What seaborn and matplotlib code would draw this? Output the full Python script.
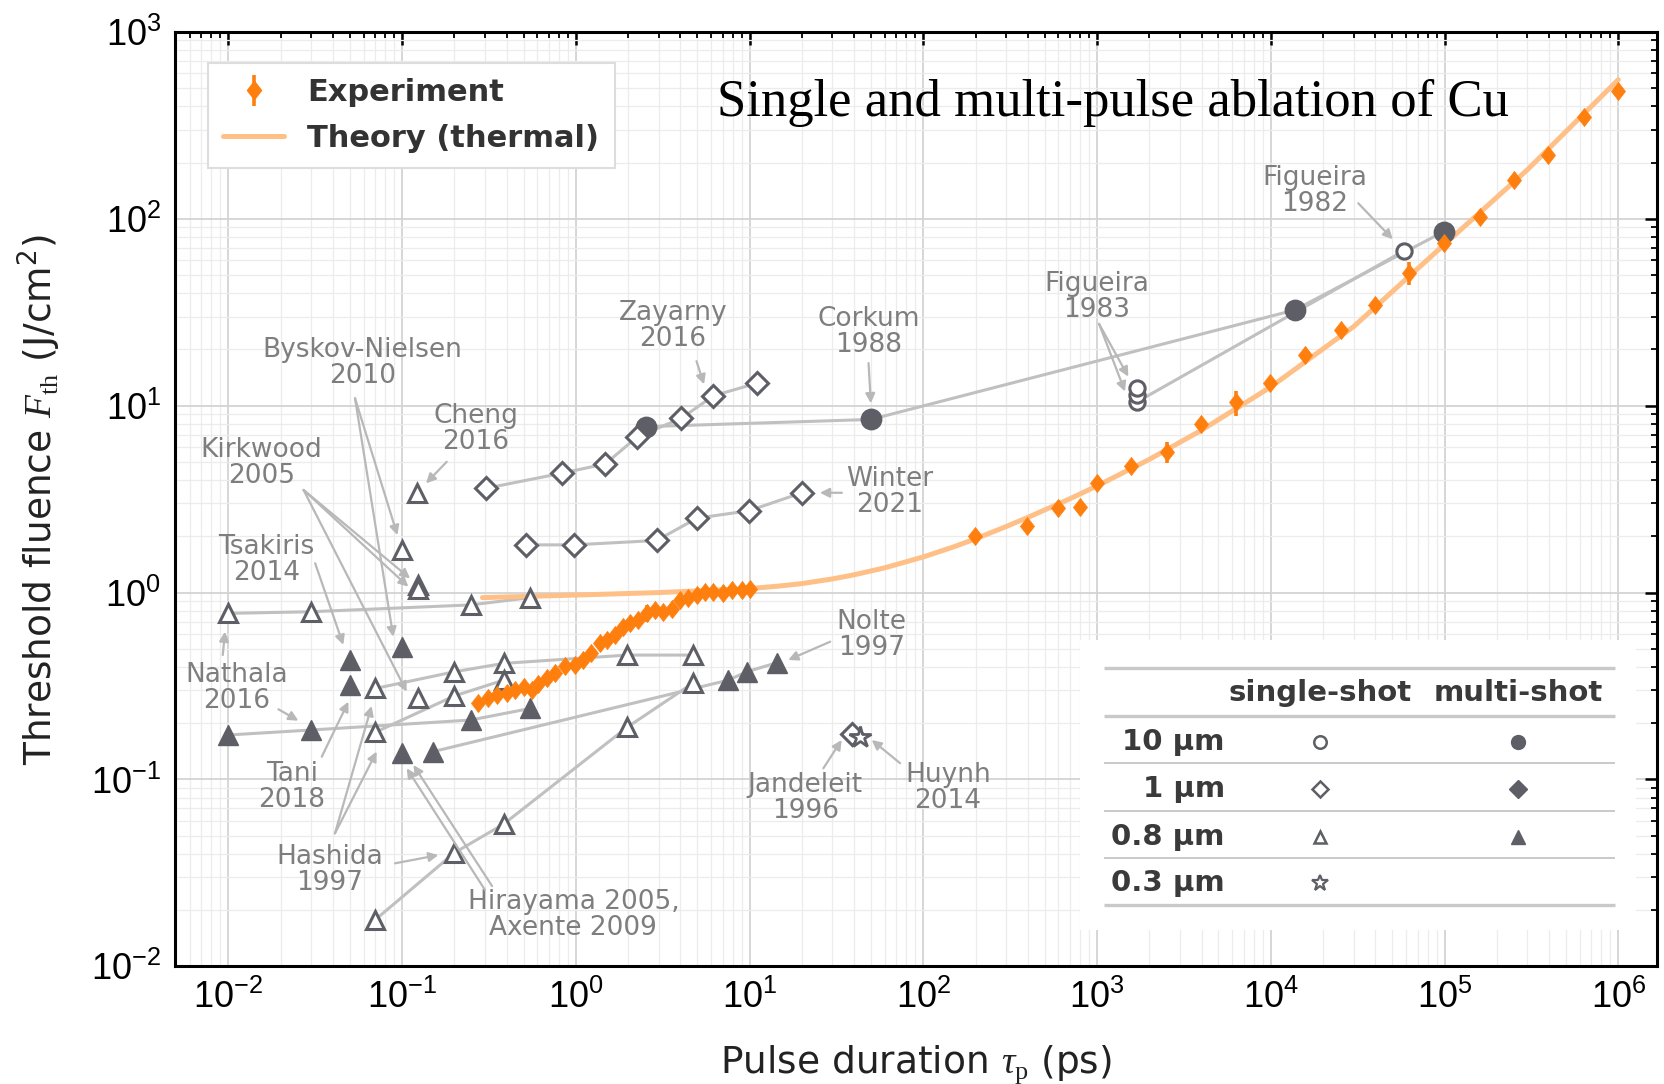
import numpy as np
import matplotlib
matplotlib.use("Agg")
import matplotlib.pyplot as plt
from matplotlib.ticker import LogLocator, NullFormatter
from matplotlib.lines import Line2D
import seaborn as sns

# ---------------- data ----------------
# Experiment (orange diamonds with error bars)
exp_x = [0.275, 0.313, 0.353, 0.40, 0.447, 0.503, 0.557, 0.608, 0.68, 0.76, 0.867, 0.99,
         1.10, 1.23, 1.38, 1.51, 1.68, 1.88, 2.05, 2.29, 2.56, 2.86, 3.19, 3.56, 3.98,
         4.44, 4.96, 5.54, 6.18, 7.06, 7.89, 9.01, 10.07,
         199.6, 396, 597, 800, 995, 1566, 2513, 3990, 6280, 9880, 15670, 25200, 39600,
         62800, 98900, 159000, 251000, 396000, 631000, 1.0e6]
exp_y = [0.256, 0.272, 0.283, 0.292, 0.301, 0.314, 0.301, 0.324, 0.348, 0.37, 0.405, 0.41,
         0.436, 0.473, 0.536, 0.557, 0.593, 0.657, 0.69, 0.713, 0.774, 0.807, 0.79, 0.814, 0.912,
         0.932, 0.97, 1.01, 1.01, 1.0, 1.03, 1.03, 1.05,
         2.01, 2.27, 2.83, 2.88, 3.84, 4.76, 5.68, 7.98, 10.4, 13.2, 18.7, 25.4, 34.6,
         51.5, 74.5, 102.6, 161, 219, 352, 480]
exp_err = [0.0, 0.0, 0.0, 0.0, 0.0, 0.0, 0.0, 0.0, 0.0, 0.0, 0.0, 0.0,
           0.0, 0.0, 0.03, 0.0, 0.0, 0.05, 0.0, 0.0, 0.08, 0.0, 0.0, 0.04, 0.0,
           0.0, 0.0, 0.0, 0.0, 0.0, 0.0, 0.0, 0.0,
           0.0, 0.0, 0.0, 0.0, 0.0, 0.0, 0.75, 0.0, 1.6, 0.0, 0.0, 0.0, 0.0,
           7.3, 0.0, 0.0, 0.0, 0.0, 0.0, 0.0]

# Theory (thermal) curve
theory_x = [0.29, 1, 3, 10, 15, 20, 30, 40, 60, 100, 150, 200, 300, 400, 700, 1000, 2000,
            4000, 1e4, 3e4, 1e5, 3e5, 1e6]
theory_y = [0.94, 0.97, 1.0, 1.05, 1.085, 1.117, 1.183, 1.245, 1.357, 1.551, 1.758, 1.94,
            2.256, 2.525, 3.18, 3.72, 5.16, 7.4, 12.6, 26.5, 73.0, 183.0, 555.0]

# 10 um, multi-shot (filled circles)
m10_x = [2.52, 49.9, 13750, 98700]
m10_y = [7.72, 8.44, 32.5, 85.3]
# 10 um, single-shot (open circles)
s10_x = [1706, 1706, 1706, 58500]
s10_y = [10.5, 11.4, 12.4, 67.5]
# 1 um, single-shot (open diamonds)
zay_x = [0.303, 0.828, 1.48, 2.26, 4.05, 6.2, 11.05]
zay_y = [3.61, 4.35, 4.88, 6.82, 8.56, 11.3, 13.2]
win_x = [0.516, 0.977, 2.92, 4.98, 9.93, 20.0]
win_y = [1.80, 1.80, 1.90, 2.50, 2.74, 3.42]
jan_x = [38.7]
jan_y = [0.175]
# 0.3 um single-shot (star)
huy_x = [43.3]
huy_y = [0.169]
# 0.8 um, single-shot (open triangles), connected series
t1_x = [0.01, 0.030, 0.248, 0.548]
t1_y = [0.774, 0.79, 0.859, 0.94]
t2_x = [0.0703, 0.20, 0.384, 1.97, 4.75]
t2_y = [0.307, 0.377, 0.418, 0.463, 0.463]
t3_x = [0.0703, 0.20, 0.384]
t3_y = [0.179, 0.28, 0.34]
t4_x = [0.0703, 0.20, 0.384, 1.97, 4.75]
t4_y = [0.0178, 0.0405, 0.0577, 0.19, 0.329]
# 0.8 um, single-shot isolated
ti_x = [0.1214, 0.0995, 0.124, 0.124, 0.124]
ti_y = [3.40, 1.69, 1.10, 1.04, 0.272]
# 0.8 um, multi-shot (filled triangles)
f1_x = [0.01, 0.030, 0.248, 0.548]
f1_y = [0.173, 0.184, 0.208, 0.24]
f2_x = [0.151, 7.55, 9.64, 14.45]
f2_y = [0.141, 0.340, 0.377, 0.422]
fi_x = [0.0501, 0.0501, 0.0996, 0.0996]
fi_y = [0.436, 0.3205, 0.514, 0.138]

# annotations: label, text position, list of (arrow start, arrow end)
notes = [
    ("Zayarny\n2016", (3.62, 26.7), [((4.95, 17.3), (5.47, 13.0))]),
    ("Corkum\n1988", (48.4, 24.7), [((48.4, 16.9), (49.9, 10.3))]),
    ("Figueira\n1983", (1000, 38.0), [((1027, 27.4), (1514, 14.3)), ((1027, 27.4), (1449, 11.9))]),
    ("Figueira\n1982", (17860, 140.9), [((31900, 121), (50350, 77.7))]),
    ("Winter\n2021", (64.3, 3.47), [((34.0, 3.42), (25.4, 3.42))]),
    ("Byskov-Nielsen\n2010", (0.0594, 16.9), [((0.0536, 10.96), (0.094, 2.03)),
                                            ((0.0536, 10.96), (0.089, 0.58))]),
    ("Cheng\n2016", (0.2655, 7.5), [((0.1807, 5.01), (0.1374, 3.84))]),
    ("Kirkwood\n2005", (0.01557, 4.92), [((0.0271, 3.54), (0.1112, 1.19)),
                                        ((0.0271, 3.54), (0.1087, 1.075)),
                                        ((0.0271, 3.54), (0.1063, 0.295))]),
    ("Tsakiris\n2014", (0.01663, 1.49), [((0.0316, 1.435), (0.0459, 0.525))]),
    ("Nathala\n2016", (0.01117, 0.3076), [((0.00929, 0.4634), (0.00957, 0.618)),
                                         ((0.01941, 0.2375), (0.0253, 0.2064))]),
    ("Tani\n2018", (0.02317, 0.0915), [((0.0345, 0.1324), (0.0491, 0.2608))]),
    ("Hashida\n1997", (0.03846, 0.0328), [((0.0411, 0.0515), (0.0668, 0.2474)),
                                         ((0.0411, 0.0515), (0.0714, 0.141)),
                                         ((0.0911, 0.0356), (0.1618, 0.0394))]),
    ("Hirayama 2005,\nAxente 2009", (0.969, 0.01875), [((0.300, 0.02566), (0.1063, 0.1148)),
                                                      ((0.3296, 0.0269), (0.1162, 0.1196))]),
    ("Nolte\n1997", (50.5, 0.593), [((29.1, 0.546), (16.7, 0.436))]),
    ("Jandeleit\n1996", (20.9, 0.0793), [((26.6, 0.1148), (33.9, 0.1627))]),
    ("Huynh\n2014", (138.7, 0.09005), [((73.5, 0.1222), (50.5, 0.1627))]),
]

# table legend content
table_rows = ["10 µm", "1 µm", "0.8 µm", "0.3 µm"]
table_cols = ["single-shot", "multi-shot"]

# ---------------- style ----------------
sns.set_theme(style="white")
plt.rcParams.update({
    "font.family": ["DejaVu Sans"],
    "mathtext.fontset": "custom",
    "mathtext.rm": "Liberation Serif",
    "mathtext.it": "Liberation Serif:italic",
    "mathtext.bf": "Liberation Serif:bold",
    "mathtext.default": "regular",
})

GRAY = "#5e5f66"
LINE = "#c0c0c0"
ORANGE = "#ff7f0e"
THEORY = "#ffc088"
NOTE = "#7e7e7e"
ARROW = "#b8b8b8"

fig = plt.figure(figsize=(16.65, 10.84), dpi=100)
ax = fig.add_axes([0.1051, 0.1085, 0.8901, 0.8621])
ax.set_xscale("log")
ax.set_yscale("log")
ax.set_xlim(10 ** -2.307, 10 ** 6.223)
ax.set_ylim(1e-2, 1e3)

for a in (ax.xaxis, ax.yaxis):
    a.set_major_locator(LogLocator(10, numticks=20))
    a.set_minor_locator(LogLocator(10, subs=np.arange(2, 10) * 1.0, numticks=200))
    a.set_minor_formatter(NullFormatter())

ax.grid(which="major", color="#d3d3d3", lw=1.3)
ax.grid(which="minor", color="#ececec", lw=0.9)
ax.set_axisbelow(True)
ax.tick_params(which="both", direction="in", top=True, right=True, color="black")
ax.tick_params(which="major", length=9, width=1.8, labelsize=26, pad=10,
               labelfontfamily="Liberation Sans", labelcolor="black")
ax.tick_params(which="minor", length=4.5, width=1.3)
for s in ax.spines.values():
    s.set_color("black")
    s.set_linewidth(2.2)


def gray_line(x, y, axis=ax):
    sns.lineplot(x=x, y=y, ax=axis, estimator=None, sort=False, color=LINE,
                 lw=2.2, legend=False, zorder=3)


def gray_pts(x, y, marker, filled, ms, axis=ax, mew=2.2, z=5):
    sns.lineplot(x=x, y=y, ax=axis, estimator=None, sort=False, linestyle="",
                 marker=marker, markersize=ms,
                 markerfacecolor=GRAY if filled else "white",
                 markeredgecolor=GRAY, markeredgewidth=mew, color=GRAY,
                 legend=False, zorder=z)


# theory curve
sns.lineplot(x=theory_x, y=theory_y, ax=ax, estimator=None, sort=False,
             color=THEORY, lw=3.6, legend=False, zorder=4)

# connecting lines
for xs, ys in [(m10_x, m10_y), ([s10_x[0], s10_x[3]], [s10_y[0], s10_y[3]]),
               (zay_x, zay_y), (win_x, win_y), (t1_x, t1_y), (t2_x, t2_y),
               (t3_x, t3_y), (t4_x, t4_y), (f1_x, f1_y), (f2_x, f2_y)]:
    gray_line(xs, ys)

# markers
gray_pts(s10_x, s10_y, "o", False, 11)
gray_pts(m10_x, m10_y, "o", True, 13.5)
gray_pts(zay_x, zay_y, "D", False, 11.5)
gray_pts(win_x, win_y, "D", False, 11.5)
gray_pts(jan_x, jan_y, "D", False, 11.5)
gray_pts(huy_x, huy_y, "*", False, 16, mew=2.0)
for xs, ys in [(t1_x, t1_y), (t2_x, t2_y), (t3_x, t3_y), (t4_x, t4_y), (ti_x, ti_y)]:
    gray_pts(xs, ys, "^", False, 13)
for xs, ys in [(f1_x, f1_y), (f2_x, f2_y), (fi_x, fi_y)]:
    gray_pts(xs, ys, "^", True, 14, mew=1.0)

# experiment
dmark = [(0, 1), (0.78, 0), (0, -1), (-0.78, 0), (0, 1)]
ax.errorbar(exp_x, exp_y, yerr=exp_err, fmt="none", ecolor=ORANGE, elinewidth=2.6,
            capsize=0, zorder=6)
sns.lineplot(x=exp_x, y=exp_y, ax=ax, estimator=None, sort=False, linestyle="",
             marker=dmark, markersize=13, markerfacecolor=ORANGE, markeredgecolor=ORANGE,
             markeredgewidth=0.5, color=ORANGE, legend=False, zorder=7)
# legend proxy (nothing drawn: NaN position)
eb_leg = ax.errorbar([np.nan], [np.nan], yerr=[1.0], marker=dmark, ms=13, linestyle="none",
                     color=ORANGE, ecolor=ORANGE, elinewidth=2.6, capsize=0)

# annotations
for label, tpos, arrows in notes:
    ax.text(tpos[0], tpos[1], label, ha="center", va="center", fontsize=19,
            color=NOTE, linespacing=1.0, zorder=8)
    for start, end in arrows:
        ax.annotate("", xy=end, xytext=start,
                    arrowprops=dict(arrowstyle="-|>", color=ARROW, lw=1.6,
                                    mutation_scale=14, shrinkA=0, shrinkB=0),
                    zorder=8)

# legend
h_th = Line2D([], [], color=THEORY, lw=3.6)
leg = ax.legend([eb_leg, h_th], ["Experiment", "Theory (thermal)"], loc="upper left",
                bbox_to_anchor=(0.0223, 0.967), borderaxespad=0, frameon=True,
                fancybox=False, framealpha=1, edgecolor="#dddddd",
                prop=dict(weight="bold", size=22), handlelength=2.0,
                handletextpad=0.75, labelspacing=0.55, borderpad=0.5)
leg.get_frame().set_linewidth(1.5)
for t in leg.get_texts():
    t.set_color("#333333")
leg.set_zorder(10)

# title
fig.text(1113 / 1665, 1 - 103 / 1084, "Single and multi-pulse ablation of Cu",
         ha="center", va="center", fontsize=38, fontfamily="Liberation Serif", color="black")

ax.set_xlabel(r"Pulse duration $\mathit{\tau}_{\mathrm{p}}$ (ps)", fontsize=27,
              labelpad=19, color="#222222")
ax.set_ylabel(r"Threshold fluence $\mathit{F}_{\mathrm{th}}$ (J/cm$^2$)", fontsize=27,
              labelpad=20, color="#222222")

# table legend (inset)
tax = fig.add_axes([1080 / 1665, 1 - 930 / 1084, 556 / 1665, 290 / 1084])
tax.set_xlim(0, 1)
tax.set_ylim(0, 1)
tax.set_facecolor("white")
for s in tax.spines.values():
    s.set_visible(False)
tax.set_xticks([])
tax.set_yticks([])
line_y = [0.9024, 0.7390, 0.5748, 0.4114, 0.2472, 0.0862]
for i, yy in enumerate(line_y):
    tax.plot([0.043, 0.962], [yy, yy], color="#c9c9c9",
             lw=2.4 if i in (0, 1, 5) else 1.4, solid_capstyle="butt")
col_x = [0.432, 0.788]
row_y = [0.6493, 0.4862, 0.3217, 0.1610]
for cx, name in zip(col_x, table_cols):
    tax.text(cx, 0.8162, name, ha="center", va="center", fontsize=21,
             weight="bold", color="#3a3a3a")
for ry, name in zip(row_y, table_rows):
    tax.text(0.2604, ry, name, ha="right", va="center", fontsize=21,
             weight="bold", color="#3a3a3a")
gray_pts([col_x[0]], [row_y[0]], "o", False, 9, axis=tax, mew=1.8)
gray_pts([col_x[1]], [row_y[0]], "o", True, 10, axis=tax, mew=1.0)
gray_pts([col_x[0]], [row_y[1]], "D", False, 8, axis=tax, mew=1.8)
gray_pts([col_x[1]], [row_y[1]], "D", True, 9, axis=tax, mew=1.0)
gray_pts([col_x[0]], [row_y[2]], "^", False, 9, axis=tax, mew=1.8)
gray_pts([col_x[1]], [row_y[2]], "^", True, 10, axis=tax, mew=1.0)
gray_pts([col_x[0]], [row_y[3]], "*", False, 12, axis=tax, mew=1.6)
tax.set_xlabel("")
tax.set_ylabel("")

fig.savefig("out.png", dpi=100)
